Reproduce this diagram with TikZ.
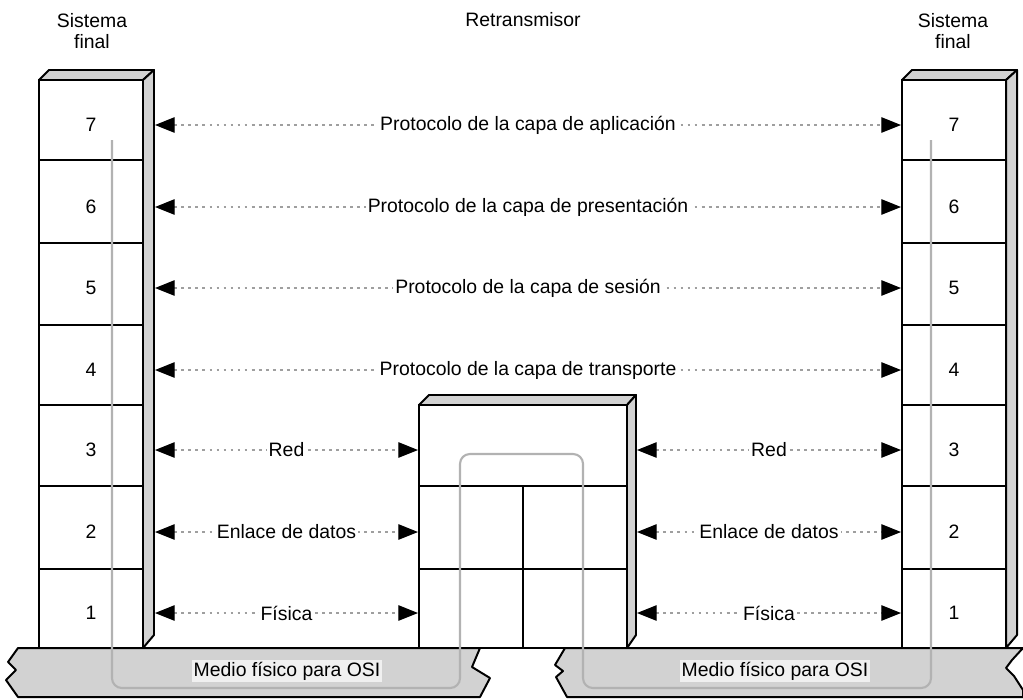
\documentclass[tikz,border=0pt]{standalone}
\usepackage{fontspec}
\setmainfont{Liberation Sans}
\usetikzlibrary{arrows.meta}

\begin{document}
\begin{tikzpicture}[x=0.025cm,y=-0.025cm]
  \def\w{104}
  \def\d{11}

\tikzstyle{shade}=[fill=gray!35,draw=black,line width=1.4pt,line join=round]
\tikzstyle{front}=[fill=white,draw=black,line width=2pt]
\tikzstyle{txt}=[font=\fontsize{13.8}{15.5}\selectfont]
\tikzstyle{proto}=[draw=gray!75,line width=0.9pt,dash pattern=on 2pt off 3pt,
  {Triangle[length=14pt,width=11pt,black]}-{Triangle[length=14pt,width=11pt,black]}]
\tikzstyle{plabel}=[txt,fill=white,inner sep=1.5pt]
\tikzstyle{route}=[draw=gray!60,line width=1.5pt,rounded corners=7pt]

\useasboundingbox (0,0) rectangle (1023,699);

% medio fisico
\path[shade] (18,648) -- (480,648) -- (472,667) -- (490,678) -- (480,697)
  -- (18,697) -- (6,680) -- (16,670) -- (8,662) -- cycle;
\path[shade] (565,648) -- (1023,648) -- (1012,660) -- (1006,668) -- (1014,676)
  -- (1023,690) -- (1023,697) -- (567,697) -- (556,677) -- (563,671) -- (555,665) -- cycle;

% sistemas finales
\foreach \xa/\s in {39/L,902/R}{
  \path[shade] (\xa,80) -- (\xa+10,70) -- (\xa+\w+\d,70) -- (\xa+\w,80) -- cycle;
  \path[shade] (\xa+\w,80) -- (\xa+\w+\d,70) -- (\xa+\w+\d,635) -- (\xa+\w,648) -- cycle;
  \path[front] (\xa,80) rectangle (\xa+\w,648);
  \foreach \yl in {160,243,325,405,486,569}
    \draw[line width=1.6pt] (\xa,\yl) -- (\xa+\w,\yl);
  \foreach \n/\yn in {7/125,6/207,5/288,4/370,3/450,2/532,1/613}
    \node[txt] (\s\n) at (\xa+\w/2,\yn) {\n};
}

% retransmisor
\path[shade] (419,405) -- (429,395) -- (636,395) -- (627,405) -- cycle;
\path[shade] (627,405) -- (636,395) -- (636,635) -- (627,648) -- cycle;
\path[front] (419,405) rectangle (627,648);
\draw[line width=1.6pt] (419,486) -- (627,486);
\draw[line width=1.6pt] (419,569) -- (627,569);
\draw[line width=1.6pt] (523,486) -- (523,648);

% recorrido de los datos
\path[route] (112,140) -- (112,688) -- (460,688) -- (460,454) -- (583,454)
  -- (583,688) -- (931,688) -- (931,140);

\node[txt,fill=gray!12,inner sep=1pt] (M1) at (287,671) {Medio físico para OSI};
\node[txt,fill=gray!12,inner sep=1pt] (M2) at (775,671) {Medio físico para OSI};

% titulos
\node[txt,align=center] (SF1) at (92,31) {Sistema\\final};
\node[txt] (RT) at (523,20) {Retransmisor};
\node[txt,align=center] (SF2) at (953,31) {Sistema\\final};

% puntos de los protocolos
\foreach \n/\yn in {7/125,6/207,5/288,4/370,3/450,2/532,1/613}{
  \coordinate (a\n) at (39+\w+\d+1,\yn);
  \coordinate (b\n) at (901,\yn);
}
\foreach \n/\yn in {3/450,2/532,1/613}{
  \coordinate (c\n) at (418,\yn);
  \coordinate (d\n) at (637,\yn);
}

\draw[proto] (a7) -- node[plabel] (P7) {Protocolo de la capa de aplicación} (b7);
\draw[proto] (a6) -- node[plabel] (P6) {Protocolo de la capa de presentación} (b6);
\draw[proto] (a5) -- node[plabel] (P5) {Protocolo de la capa de sesión} (b5);
\draw[proto] (a4) -- node[plabel] (P4) {Protocolo de la capa de transporte} (b4);
\draw[proto] (a3) -- node[plabel] (P3) {Red} (c3);
\draw[proto] (a2) -- node[plabel] (P2) {Enlace de datos} (c2);
\draw[proto] (a1) -- node[plabel] (P1) {Física} (c1);
\draw[proto] (d3) -- node[plabel] (Q3) {Red} (b3);
\draw[proto] (d2) -- node[plabel] (Q2) {Enlace de datos} (b2);
\draw[proto] (d1) -- node[plabel] (Q1) {Física} (b1);
\end{tikzpicture}
\end{document}
